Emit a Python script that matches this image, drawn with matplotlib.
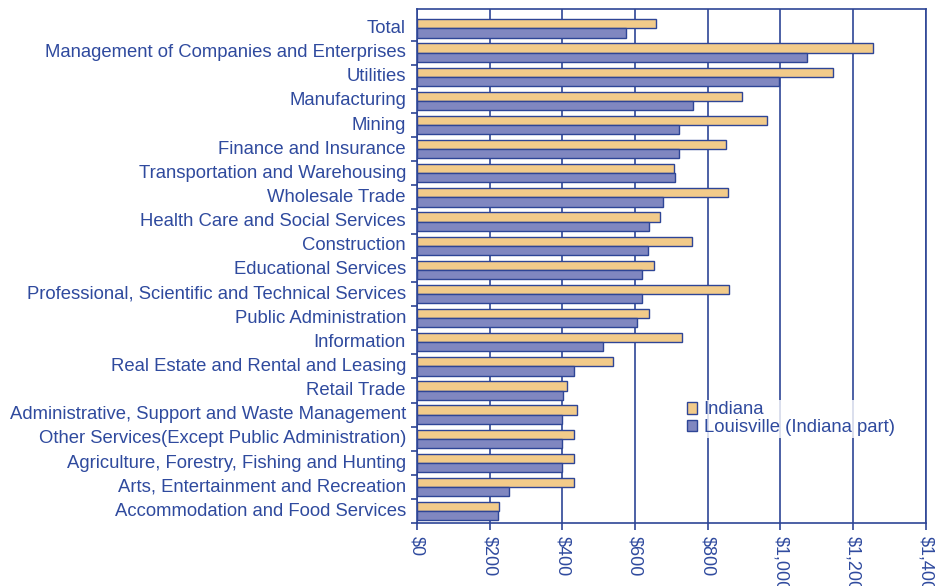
import numpy as np
import matplotlib.pyplot as plt
from matplotlib.ticker import FuncFormatter, MultipleLocator

plt.rcParams['font.family'] = ['Liberation Sans', 'DejaVu Sans']

# 行业（从上到下）
industries = [
    "Total",
    "Management of Companies and Enterprises",
    "Utilities",
    "Manufacturing",
    "Mining",
    "Finance and Insurance",
    "Transportation and Warehousing",
    "Wholesale Trade",
    "Health Care and Social Services",
    "Construction",
    "Educational Services",
    "Professional, Scientific and Technical Services",
    "Public Administration",
    "Information",
    "Real Estate and Rental and Leasing",
    "Retail Trade",
    "Administrative, Support and Waste Management",
    "Other Services(Except Public Administration)",
    "Agriculture, Forestry, Fishing and Hunting",
    "Arts, Entertainment and Recreation",
    "Accommodation and Food Services",
]
indiana = [657, 1255, 1145, 895, 962, 851, 708, 857, 670, 758, 653, 858,
           639, 728, 540, 414, 439, 432, 433, 432, 226]
louisville = [575, 1072, 997, 759, 722, 720, 709, 678, 638, 637, 620, 619,
              605, 512, 433, 402, 400, 400, 398, 253, 223]

blue = '#2e4596'
text_blue = '#2f4a9e'
c_ind = '#f2cb8a'
c_lou = '#8087c0'

fig = plt.figure(figsize=(9.36, 5.86), dpi=100)
ax = fig.add_axes([0.4455, 0.107, 0.5435, 0.877])

n = len(industries)
y = np.arange(n)[::-1]
h = 0.38
ax.barh(y + h / 2, indiana, height=h, color=c_ind, edgecolor=blue, linewidth=1, label='Indiana', zorder=3)
ax.barh(y - h / 2, louisville, height=h, color=c_lou, edgecolor=blue, linewidth=1,
        label='Louisville (Indiana part)', zorder=3)

ax.set_xlim(0, 1400)
ax.set_ylim(-0.5, n - 0.5 + 0.29)
ax.xaxis.set_major_locator(MultipleLocator(200))
ax.xaxis.set_major_formatter(FuncFormatter(lambda v, p: '${:,.0f}'.format(v)))
ax.grid(axis='x', color=blue, linewidth=1.2, zorder=0)

ax.set_yticks(y + 0.08)
ax.set_yticklabels(industries)
ax.set_yticks(np.arange(n) - 0.5, minor=True)
ax.tick_params(axis='y', which='major', length=0, pad=8, labelsize=13.3, labelcolor=text_blue)
ax.tick_params(axis='y', which='minor', length=4, width=1.2, color=blue, direction='out')
ax.tick_params(axis='x', length=5, width=1.2, color=blue, labelsize=13, labelcolor=text_blue,
               labelrotation=-90, pad=4)

for s in ax.spines.values():
    s.set_color(blue)
    s.set_linewidth(1.2)

leg = ax.legend(loc='upper left', bbox_to_anchor=(0.732, 0.318), bbox_transform=fig.transFigure,
                frameon=True, fontsize=13.3, handlelength=0.55, handleheight=0.55,
                handletextpad=0.35, labelspacing=0.05, borderpad=0.1, borderaxespad=0)
leg.get_frame().set_edgecolor('white')
leg.get_frame().set_linewidth(0)
for t in leg.get_texts():
    t.set_color(text_blue)

plt.savefig('out.png', dpi=100)
